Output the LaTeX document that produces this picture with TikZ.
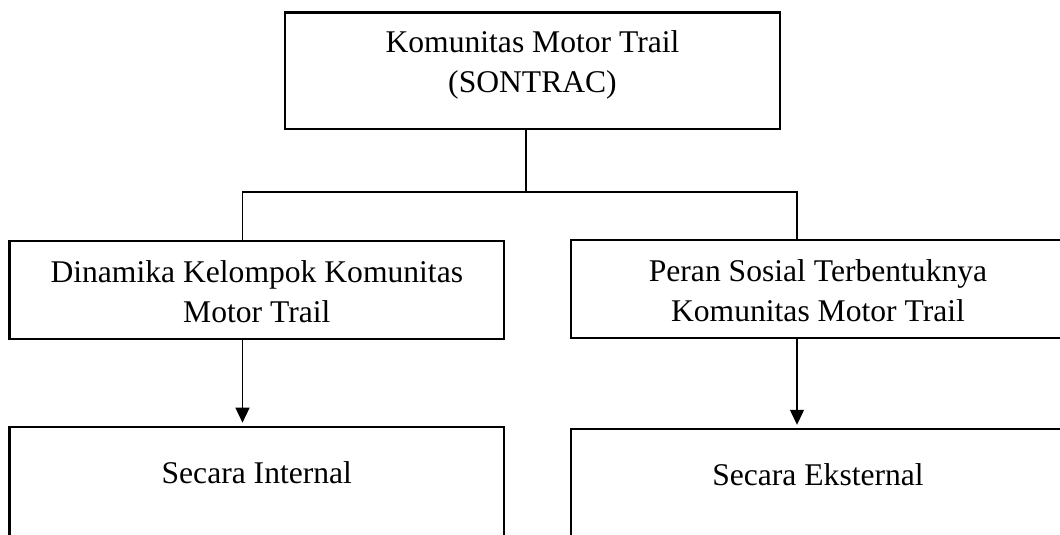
\documentclass[tikz,border=0pt]{standalone}
\usepackage{fontspec}
\setmainfont{Liberation Serif}
\usetikzlibrary{positioning,arrows.meta}

\begin{document}
\begin{tikzpicture}[node distance=2cm,
    box/.style={draw, rectangle, line width=1.1pt, inner sep=0pt, align=center,
                minimum width=247.25pt, font=\fontsize{15.8}{20}\selectfont},
    link/.style={line width=0.55pt},
    >={Triangle[length=7.5pt,width=7pt]}]
   \useasboundingbox (0,0) rectangle (530pt,-267.5pt);
   \clip (0,0) rectangle (530pt,-267.5pt);

   \node[box, minimum width=247.5pt, text height=39.75pt, text depth=18.5pt]
        (kom) at (266.25pt,-35.4pt) {Komunitas Motor Trail\\(SONTRAC)};
   \node[box, text height=40.75pt, text depth=8.25pt, on grid]
        (din) [below left=109.4pt and 137.85pt of kom]  {Dinamika Kelompok Komunitas\\Motor Trail};
   \node[box, text height=40.75pt, text depth=8.25pt, on grid]
        (per) [below right=109.2pt and 142.75pt of kom] {Peran Sosial Terbentuknya\\Komunitas Motor Trail};
   \node[box, text height=28.5pt, text depth=70pt]
        (int) [below=43pt of din] {Secara Internal};
   \node[box, text height=28.5pt, text depth=70pt]
        (eks) [below=44.25pt of per] {Secara Eksternal};

   \coordinate (jt) at (263pt,-96pt);
   \coordinate (jl) at (121.25pt,-96pt);
   \coordinate (jr) at (398.5pt,-96pt);

   \draw[link] (jt |- kom.south) -- (jt);
   \draw[link] (jl |- din.north) -- (jl) -- (jr) -- (jr |- per.north);

   \path[->, link, line width=0.65pt, shorten >=1.5pt]
    (jl |- din.south) edge (jl |- int.north)
    (jr |- per.south) edge (jr |- eks.north);
\end{tikzpicture}
\end{document}
